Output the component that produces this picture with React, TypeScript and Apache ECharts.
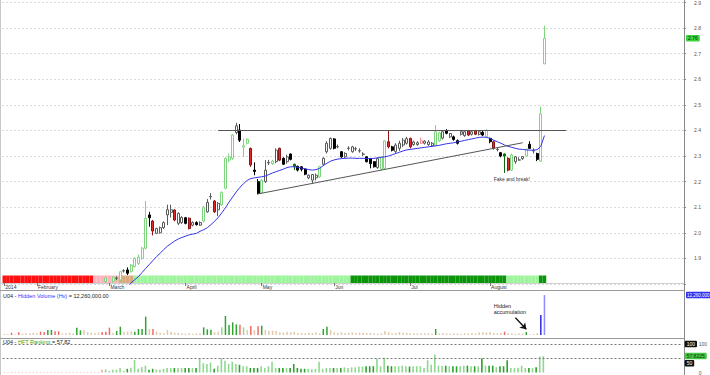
import React, { useEffect, useRef } from 'react';
import * as echarts from 'echarts';

const FONT = '"Liberation Sans", Arial, sans-serif';
const N_CATS = 188;

// x-axis month labels (category index where each month starts)
const monthStarts = [0, 9, 29, 50, 71, 91, 112, 134];
const monthLabels = ['2014', 'February', 'March', 'April', 'May', 'Jun', 'Jul', 'August'];

// candles [open, close, low, high], starting at bar FIRST_CANDLE (earlier bars are below 1.8)
const FIRST_CANDLE = 28;
const candleRows: (number[] | null)[] = [
  [1.809, 1.823, 1.805, 1.826], null, [1.81, 1.825, 1.805, 1.83], [1.822, 1.823, 1.815, 1.83],
  [1.816, 1.848, 1.812, 1.85], [1.851, 1.852, 1.845, 1.858], [1.855, 1.842, 1.835, 1.865],
  [1.848, 1.874, 1.845, 1.878], [1.868, 1.9, 1.865, 1.905], [1.88, 1.905, 1.875, 1.915],
  [1.9, 1.94, 1.895, 1.945], [1.94, 2.057, 1.935, 2.124], [2.07, 2.059, 2.024, 2.082],
  [2.046, 2.007, 1.99, 2.05], [1.998, 2.017, 1.995, 2.02], [2.0, 2.02, 1.997, 2.025],
  [2.02, 2.04, 2.015, 2.045], [2.07, 2.09, 2.03, 2.11], [2.08, 2.09, 2.06, 2.11],
  [2.089, 2.05, 2.045, 2.092], [2.037, 2.076, 2.03, 2.08], [2.04, 2.06, 2.035, 2.065],
  [2.059, 2.037, 2.033, 2.062], [2.057, 2.017, 2.013, 2.06], [2.03, 2.04, 2.025, 2.045],
  [2.04, 2.032, 2.028, 2.045], [2.03, 2.04, 2.027, 2.045], [2.046, 2.1, 2.04, 2.105],
  [2.082, 2.119, 2.078, 2.132], [2.141, 2.142, 2.13, 2.155], [2.124, 2.082, 2.078, 2.128],
  [2.09, 2.115, 2.065, 2.12], [2.109, 2.158, 2.105, 2.162], [2.174, 2.291, 2.17, 2.295],
  [2.284, 2.297, 2.275, 2.31], [2.291, 2.382, 2.285, 2.385], [2.392, 2.418, 2.385, 2.43],
  [2.402, 2.362, 2.355, 2.425], [2.335, 2.34, 2.297, 2.369], [2.35, 2.365, 2.345, 2.37],
  [2.33, 2.265, 2.258, 2.333], [2.245, 2.24, 2.225, 2.275], [2.2, 2.154, 2.15, 2.21],
  [2.157, 2.206, 2.155, 2.21], [2.2, 2.245, 2.195, 2.284], [2.273, 2.275, 2.265, 2.285],
  [2.27, 2.28, 2.265, 2.285], [2.278, 2.323, 2.272, 2.33], [2.33, 2.284, 2.28, 2.333],
  [2.291, 2.268, 2.265, 2.295], [2.278, 2.297, 2.27, 2.305], [2.308, 2.287, 2.283, 2.31],
  [2.268, 2.26, 2.245, 2.27], [2.26, 2.245, 2.24, 2.262], [2.258, 2.248, 2.24, 2.26],
  [2.249, 2.229, 2.225, 2.252], [2.215, 2.225, 2.21, 2.228], [2.206, 2.228, 2.193, 2.23],
  [2.215, 2.225, 2.205, 2.232], [2.219, 2.258, 2.215, 2.262], [2.268, 2.291, 2.262, 2.295],
  [2.317, 2.35, 2.31, 2.358], [2.33, 2.369, 2.325, 2.372], [2.367, 2.33, 2.326, 2.37],
  [2.336, 2.337, 2.33, 2.345], [2.317, 2.297, 2.293, 2.32], [2.297, 2.31, 2.293, 2.315],
  [2.33, 2.331, 2.322, 2.338], [2.317, 2.336, 2.313, 2.34], [2.328, 2.329, 2.32, 2.336],
  [2.32, 2.321, 2.313, 2.33], [2.307, 2.308, 2.3, 2.315], [2.297, 2.278, 2.275, 2.3],
  [2.29, 2.27, 2.252, 2.292], [2.278, 2.258, 2.255, 2.28], [2.255, 2.29, 2.25, 2.295],
  [2.249, 2.297, 2.245, 2.3], [2.252, 2.359, 2.25, 2.362], [2.356, 2.336, 2.33, 2.4],
  [2.336, 2.323, 2.318, 2.34], [2.318, 2.343, 2.31, 2.35], [2.33, 2.35, 2.32, 2.36],
  [2.343, 2.362, 2.335, 2.37], [2.35, 2.368, 2.345, 2.375], [2.369, 2.336, 2.33, 2.372],
  [2.345, 2.355, 2.34, 2.36], [2.345, 2.352, 2.34, 2.358], [2.35, 2.36, 2.347, 2.372],
  [2.35, 2.358, 2.345, 2.362], [2.345, 2.355, 2.34, 2.362], [2.34, 2.35, 2.335, 2.355],
  [2.343, 2.395, 2.338, 2.421], [2.36, 2.39, 2.355, 2.395], [2.37, 2.395, 2.365, 2.4],
  [2.399, 2.389, 2.385, 2.405], [2.375, 2.388, 2.37, 2.39], [2.375, 2.365, 2.36, 2.38],
  [2.36, 2.35, 2.345, 2.365], [2.385, 2.395, 2.38, 2.4], [2.38, 2.395, 2.375, 2.4],
  [2.4, 2.382, 2.378, 2.4], [2.385, 2.395, 2.38, 2.4], [2.4, 2.385, 2.382, 2.402],
  [2.385, 2.395, 2.38, 2.4], [2.393, 2.382, 2.378, 2.4], [2.375, 2.4, 2.37, 2.405],
  [2.369, 2.356, 2.35, 2.372], [2.356, 2.33, 2.325, 2.36], [2.325, 2.326, 2.318, 2.335],
  [2.313, 2.3, 2.295, 2.316], [2.308, 2.3, 2.234, 2.31], [2.291, 2.245, 2.24, 2.295],
  [2.245, 2.304, 2.242, 2.31], [2.278, 2.297, 2.27, 2.3], [2.284, 2.285, 2.282, 2.295],
  [2.29, 2.298, 2.285, 2.3], [2.3, 2.326, 2.298, 2.33], [2.346, 2.33, 2.328, 2.358],
  [2.32, 2.321, 2.31, 2.33], [2.31, 2.287, 2.28, 2.313], [2.28, 2.465, 2.278, 2.493],
  [2.66, 2.76, 2.66, 2.81],
];
// candle colour code per row: g green hollow, w grey hollow, k black, r red, p pink hollow, d dark green
const candleTypes =
  'gwgwgwkggg' + 'ggkrwwwwwr' + 'wwkrwkwgww' + 'rwggggwkgg' + 'rkkgwwgwrk' + 'wkdkkkwwwg' +
  'wwwkwkwwww' + 'wwkkkwggrk' + 'wwwwrwwpww' + 'wggwkwkkww' + 'rwrwkgkrwk' + 'drgwwwgkwk' + 'gg';

// moving average (blue), starting at bar FIRST_MA
const FIRST_MA = 34;
const maValues = [
  1.79, 1.805, 1.817, 1.829, 1.845, 1.861, 1.876, 1.892, 1.907, 1.92,
  1.935, 1.948, 1.958, 1.968, 1.976, 1.982, 1.987, 1.992, 1.995, 1.998,
  2.006, 2.012, 2.02, 2.032, 2.045, 2.06, 2.078, 2.098, 2.12, 2.14,
  2.16, 2.178, 2.192, 2.205, 2.212, 2.215, 2.217, 2.219, 2.222, 2.228,
  2.234, 2.239, 2.244, 2.249, 2.255, 2.258, 2.258, 2.256, 2.253, 2.25,
  2.247, 2.245, 2.247, 2.252, 2.263, 2.272, 2.28, 2.285, 2.288, 2.29,
  2.291, 2.292, 2.292, 2.291, 2.291, 2.291, 2.29, 2.29, 2.291, 2.293,
  2.295, 2.297, 2.3, 2.305, 2.31, 2.315, 2.32, 2.324, 2.326, 2.328,
  2.33, 2.332, 2.334, 2.336, 2.338, 2.34, 2.342, 2.345, 2.348, 2.35,
  2.352, 2.355, 2.358, 2.361, 2.364, 2.367, 2.37, 2.373, 2.374, 2.373,
  2.369, 2.362, 2.356, 2.35, 2.343, 2.338, 2.334, 2.33, 2.327, 2.326,
  2.324, 2.323, 2.323, 2.325, 2.338, 2.38,
];

// hidden volume, millions of shares, bars 0..149
const volume = [
  0.31, 0.31, 0.72, 0.2, 0.82, 0.41, 0.51, 0.51, 0.72, 0.51,
  1.02, 0.92, 1.53, 1.53, 1.12, 1.12, 0.41, 0.51, 0.72, 0.51,
  2.25, 1.43, 1.53, 0.92, 0.72, 0.61, 0.72, 0.92, 1.02, 2.25,
  0.72, 1.23, 2.56, 1.02, 1.02, 1.12, 1.02, 1.84, 1.84, 5.62,
  1.84, 1.84, 1.02, 0.72, 0.51, 1.53, 1.02, 0.72, 0.72, 0.51,
  0.41, 0.51, 0.41, 0.51, 0.51, 2.35, 1.74, 1.64, 0.82, 1.02,
  2.35, 5.83, 3.07, 3.88, 3.27, 3.17, 2.35, 1.53, 2.76, 1.53,
  2.66, 2.86, 1.53, 1.33, 1.33, 1.33, 0.82, 0.72, 1.02, 0.82,
  1.02, 0.61, 0.61, 0.51, 0.72, 0.61, 0.82, 0.51, 1.84, 2.56,
  1.53, 0.82, 0.72, 0.82, 0.61, 0.72, 0.82, 0.61, 0.72, 0.72,
  0.61, 0.61, 0.51, 0.41, 0.51, 1.23, 0.82, 0.51, 0.61, 0.92,
  0.72, 0.72, 0.51, 0.51, 0.51, 0.51, 0.51, 0.51, 0.41, 1.84,
  0.51, 0.61, 0.51, 0.41, 0.51, 0.51, 0.41, 0.51, 0.51, 0.61,
  0.51, 0.82, 0.82, 0.82, 0.92, 0.61, 0.51, 0.61, 1.02, 0.51,
  0.51, 0.41, 0.51, 0.41, 0.92, 0.2, 0.31, 0.61, 6.13, 12.26,
];
const volumeTones =
  'ttrtrttttt' + 'rrGGrrtttt' + 'GGtttttrrr' + 'tGGtttGGGG' + 'trtttttttt' +
  'tttttGGGtt' + 'gGGGGrgtrt' + 'rGtttttttt' + 'ttttttttGG' + 'tttttttttt' +
  'tttttttttt' + 'tttttttttG' + 'tttttttttt' + 'ttttttttrt' + 'ttttGtttBb';

// HFT ranking, bars 0..149
const hftRanking = [
  2, 2, 2, 2, 2, 2, 2, 2, 2, 2,
  2, 2, 2, 2, 2, 2, 2, 2, 2, 2,
  2, 2, 2, 2, 2, 2, 2, 10, 11, 5,
  10, 10, 16, 5, 13, 17, 44, 13, 19, 24,
  10, 13, 10, 10, 13, 16, 16, 16, 16, 16,
  16, 16, 16, 16, 50, 33, 30, 35, 13, 24,
  50, 41, 30, 38, 30, 27, 22, 22, 16, 16,
  16, 22, 16, 22, 38, 16, 16, 16, 16, 16,
  30, 16, 13, 13, 13, 11, 13, 38, 13, 16,
  16, 16, 16, 16, 18, 16, 18, 18, 21, 21,
  22, 22, 22, 49, 22, 52, 24, 22, 22, 22,
  24, 22, 21, 22, 22, 22, 16, 43, 27, 63,
  24, 24, 24, 22, 22, 22, 22, 24, 24, 22,
  22, 22, 49, 24, 24, 24, 19, 22, 22, 43,
  16, 16, 17, 24, 16, 16, 16, 18, 56, 58,
];

// colour strip under the price panel: [tone, number of bars]
const stripRuns: [string, number][] = [['r', 25], ['p', 7], ['t', 4], ['l', 60], ['d', 43], ['l', 9], ['d', 2]];

const LAST_PRICE = 2.76;
const HIDDEN_VOLUME = 12.26;
const HFT_LAST = 57.8225;

const candleColors: Record<string, [string, string]> = {
  g: ['#ffffff', '#7fd67f'],
  w: ['#ffffff', '#5a5a5a'],
  k: ['#000000', '#000000'],
  r: ['#e32a2a', '#8a1515'],
  p: ['#ffffff', '#f08c8c'],
  d: ['#0b7a0b', '#0b6a0b'],
};
const volColors: Record<string, string> = {
  t: '#e2c9ae', r: '#f06a6a', G: '#2fa52f', g: '#8fdc8f', B: '#2a2ae0', b: '#8c8cff',
};
const stripColors: Record<string, string> = {
  r: '#ff1010', p: '#ffb3bd', t: '#d6a97f', l: '#9ef59e', d: '#0a950a',
};

const HIDDEN_LINE = { color: 'rgba(0,0,0,0)', width: 0 };

export default function App() {
  const ref = useRef<HTMLDivElement>(null);

  useEffect(() => {
    if (!ref.current) return;
    const chart = echarts.init(ref.current, undefined, { renderer: 'svg' });

    const categories = Array.from({ length: N_CATS }, (_, i) => String(i));

    const candleData: any[] = [];
    candleRows.forEach((row, k) => {
      if (!row) return;
      const [fill, border] = candleColors[candleTypes[k]];
      candleData.push({
        value: [FIRST_CANDLE + k, ...row],
        itemStyle: {
          color: fill, color0: fill, borderColor: border, borderColor0: border,
          borderColorDoji: border, borderWidth: 1,
        },
      });
    });

    const maData = maValues.map((v, k) => [FIRST_MA + k, v]);

    const stripData: any[] = [];
    stripRuns.forEach(([tone, n]) => {
      for (let j = 0; j < n; j++) stripData.push({ value: 1, itemStyle: { color: stripColors[tone] } });
    });

    const volData = volume.map((v, i) => ({ value: v, itemStyle: { color: volColors[volumeTones[i]] } }));

    const hftData = hftRanking.map((v, i) => {
      let color = '#f3a3a3';
      const k = i - FIRST_CANDLE;
      if (k >= 0) {
        const row = candleRows[k];
        color = row && row[1] < row[0] ? '#2ca02c' : '#8fd88f';
      }
      return { value: v, itemStyle: { color } };
    });

    const isMonth = (idx: number) => monthStarts.indexOf(idx) >= 0;

    const grids = [
      { left: 2.5, width: 681.5, top: 1.7, height: 282.3 },
      { left: 2.5, width: 681.5, top: 275.5, height: 7.5 },
      { left: 2.5, width: 681.5, top: 292, height: 43 },
      { left: 2.5, width: 681.5, top: 344, height: 30 },
    ];

    const boxLabel = (text: string, bg: string, color: string, extra: any = {}) => ({
      show: true,
      position: 'end',
      distance: 2,
      formatter: text,
      backgroundColor: bg,
      color,
      opacity: 1,
      fontSize: 5,
      fontFamily: FONT,
      padding: [1, 2, 0.5, 2],
      borderRadius: 1,
      ...extra,
    });

    const option: any = {
      animation: false,
      backgroundColor: '#ffffff',
      textStyle: { fontFamily: FONT },
      grid: grids.map((g) => ({ ...g, containLabel: false })),
      xAxis: grids.map((_, g) => ({
        type: 'category',
        gridIndex: g,
        data: categories,
        boundaryGap: true,
        show: g === 1,
        axisLine: { show: false },
        axisTick: {
          show: g === 1,
          interval: (idx: number) => isMonth(idx),
          alignWithLabel: true,
          length: 3,
          lineStyle: { color: '#777', width: 1 },
        },
        axisLabel: {
          show: g === 1,
          interval: (idx: number) => isMonth(idx),
          formatter: (_v: string, idx: number) => {
            const m = monthStarts.indexOf(idx);
            return m >= 0 ? monthLabels[m] : '';
          },
          align: 'left',
          margin: 1.5,
          padding: [0, 0, 0, 1],
          fontSize: 5,
          color: '#333',
          fontFamily: FONT,
        },
        splitLine: { show: false },
      })),
      yAxis: [
        {
          type: 'value', gridIndex: 0, position: 'right', min: 1.8, max: 2.9, interval: 0.1,
          axisLine: { show: false },
          axisTick: { show: true, length: 2, lineStyle: { color: '#888' } },
          axisLabel: {
            fontSize: 5, color: '#555', margin: 10, fontFamily: FONT,
            formatter: (v: number) => (v < 1.85 ? '' : v.toFixed(1)),
          },
          splitLine: { show: true, lineStyle: { color: '#b4b4b4', type: [1, 3], width: 1 } },
        },
        { type: 'value', gridIndex: 1, min: 0, max: 1, show: false },
        { type: 'value', gridIndex: 2, min: 0, max: 13.2, show: false },
        {
          type: 'value', gridIndex: 3, position: 'right', min: 0, max: 100, interval: 100,
          axisLine: { show: false }, axisTick: { show: false },
          axisLabel: { fontSize: 5, color: '#555', margin: 16, fontFamily: FONT },
          splitLine: { show: false },
        },
      ],
      series: [
        {
          type: 'bar', name: 'strip', xAxisIndex: 1, yAxisIndex: 1, data: stripData,
          barCategoryGap: '0%', barGap: '0%', silent: true,
        },
        {
          type: 'candlestick', name: 'U04', xAxisIndex: 0, yAxisIndex: 0,
          dimensions: ['idx', 'open', 'close', 'lowest', 'highest'],
          encode: { x: 'idx', y: ['open', 'close', 'lowest', 'highest'] },
          data: candleData, barWidth: 2.6, clip: true,
          markLine: {
            silent: true, symbol: ['none', 'none'], animation: false,
            data: [
              [
                { coord: [70, 2.152], lineStyle: { color: '#555', width: 1, type: 'solid' }, label: { show: false } },
                { coord: [143, 2.352] },
              ],
              [
                { coord: [59, 2.4], lineStyle: { color: '#555', width: 1, type: 'solid' }, label: { show: false } },
                { coord: [155, 2.4] },
              ],
              {
                yAxis: LAST_PRICE, lineStyle: HIDDEN_LINE,
                label: boxLabel(String(LAST_PRICE), '#3fd23f', '#063306'),
              },
            ],
          },
          markPoint: {
            silent: true, animation: false, symbol: 'circle', symbolSize: 0,
            data: [
              {
                coord: [140, 2.21], itemStyle: { color: 'transparent' },
                label: { show: true, position: 'inside', formatter: 'Fake and break!', fontSize: 5, color: '#333', fontFamily: FONT },
              },
            ],
          },
        },
        {
          type: 'line', name: 'MA', xAxisIndex: 0, yAxisIndex: 0, data: maData,
          symbol: 'none', clip: true, lineStyle: { color: '#3434ea', width: 1 }, itemStyle: { color: '#3434ea' },
        },
        {
          type: 'bar', name: 'Hidden Volume', xAxisIndex: 2, yAxisIndex: 2, data: volData, barWidth: 1.5,
          markLine: {
            silent: true, animation: false, symbol: ['none', 'arrow'], symbolSize: 6,
            data: [
              {
                yAxis: HIDDEN_VOLUME, symbol: 'none', lineStyle: HIDDEN_LINE,
                label: boxLabel('12,260,000', '#3030f0', '#ffffff', { distance: 2, fontSize: 4.5, padding: [1, 1, 0.5, 1] }),
              },
              [
                { coord: [141, 5.3], lineStyle: { color: '#111', width: 1.3, type: 'solid' }, label: { show: false } },
                { coord: [144, 1.75] },
              ],
            ],
          },
          markPoint: {
            silent: true, animation: false, symbol: 'circle', symbolSize: 0,
            data: [
              {
                coord: [135, 8.1], itemStyle: { color: 'transparent' },
                label: {
                  show: true, position: 'inside', align: 'left', formatter: 'Hidden\naccumulation',
                  fontSize: 5.5, lineHeight: 6, color: '#222', fontFamily: FONT,
                },
              },
            ],
          },
        },
        {
          type: 'bar', name: 'HFT Ranking', xAxisIndex: 3, yAxisIndex: 3, data: hftData, barWidth: 1.6,
          markLine: {
            silent: true, animation: false, symbol: ['none', 'none'],
            data: [
              { yAxis: 100, lineStyle: { color: '#777', type: [2, 2], width: 1 }, label: boxLabel('100', '#111', '#fff') },
              { yAxis: 50, lineStyle: { color: '#777', type: [2, 2], width: 1 }, label: boxLabel('50', '#111', '#fff', { offset: [0, 5] }) },
              { yAxis: HFT_LAST, lineStyle: HIDDEN_LINE, label: boxLabel(String(HFT_LAST), '#45c945', '#053305') },
            ],
          },
        },
      ],
      graphic: [
        { type: 'line', silent: true, shape: { x1: 0.5, y1: 0, x2: 0.5, y2: 375 }, style: { stroke: '#c8c8c8', lineWidth: 1 } },
        { type: 'line', silent: true, shape: { x1: 684.5, y1: 0, x2: 684.5, y2: 375 }, style: { stroke: '#8a8a8a', lineWidth: 1 } },
        { type: 'line', silent: true, shape: { x1: 0, y1: 283.5, x2: 684, y2: 283.5 }, style: { stroke: '#d0d0d0', lineWidth: 1 } },
        { type: 'line', silent: true, shape: { x1: 0, y1: 290.5, x2: 684, y2: 290.5 }, style: { stroke: '#9a9a9a', lineWidth: 1 } },
        { type: 'line', silent: true, shape: { x1: 0, y1: 338.5, x2: 684, y2: 338.5 }, style: { stroke: '#9a9a9a', lineWidth: 1 } },
        {
          type: 'text', silent: true, x: 3, y: 292.5,
          style: {
            text: '{a|U04 - }{b|Hidden Volume (Hv)}{a| = 12,260,000.00}',
            fontSize: 5.5, fontFamily: FONT,
            rich: {
              a: { fill: '#222', color: '#222', fontSize: 5.5, fontFamily: FONT },
              b: { fill: '#3333ff', color: '#3333ff', fontSize: 5.5, fontFamily: FONT },
            },
          },
        },
        {
          type: 'text', silent: true, x: 3, y: 338.8,
          style: {
            text: '{a|U04 - }{b|HFT Ranking}{a| = 57.82}',
            fontSize: 5.5, fontFamily: FONT,
            rich: {
              a: { fill: '#222', color: '#222', fontSize: 5.5, fontFamily: FONT },
              b: { fill: '#2faa2f', color: '#2faa2f', fontSize: 5.5, fontFamily: FONT },
            },
          },
        },
      ],
    };

    chart.setOption(option);
    return () => chart.dispose();
  }, []);

  return (
    <div
      ref={ref}
      style={{ position: 'fixed', left: 0, top: 0, width: 710, height: 375, background: '#fff' }}
    />
  );
}
